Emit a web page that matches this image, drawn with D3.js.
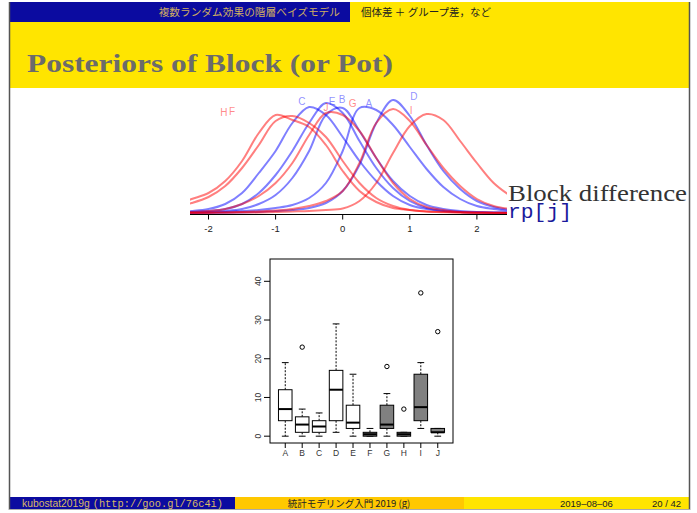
<!DOCTYPE html>
<html>
<head>
<meta charset="utf-8">
<script src="https://cdn.jsdelivr.net/npm/d3@7"></script>
<style>
  body { margin: 0; background: #fff; }
  svg { display: block; }
</style>
</head>
<body>
<svg id="vis" width="697" height="513"></svg>
<script>
// block names and posterior density samples
var blocks = ["A", "B", "C", "D", "E", "F", "G", "H", "I", "J"];
var gridX = [-2.5, -2.25, -2, -1.75, -1.5, -1.25, -1, -0.75, -0.5, -0.25, 0,
  0.25, 0.5, 0.75, 1, 1.25, 1.5, 1.75, 2, 2.25, 2.5];

var densA = [0.001, 0.002, 0.005, 0.01, 0.02, 0.03, 0.05, 0.08, 0.15, 0.3, 0.62, 1.05, 1.03, 0.88, 0.66, 0.44, 0.26, 0.14, 0.07, 0.04, 0.02];
var densB = [0.005, 0.01, 0.02, 0.04, 0.09, 0.2, 0.38, 0.62, 0.9, 1.1, 1.0, 0.72, 0.45, 0.25, 0.12, 0.05, 0.02, 0.01, 0.005, 0.003, 0.002];
var densC = [0.01, 0.02, 0.04, 0.09, 0.2, 0.4, 0.62, 0.9, 1.06, 0.98, 0.76, 0.52, 0.32, 0.17, 0.08, 0.04, 0.02, 0.01, 0.005, 0.003, 0.002];
var densD = [0, 0.001, 0.002, 0.003, 0.005, 0.01, 0.02, 0.03, 0.05, 0.1, 0.22, 0.48, 0.9, 1.13, 0.97, 0.68, 0.42, 0.24, 0.12, 0.06, 0.03];
var densE = [0.002, 0.004, 0.01, 0.02, 0.04, 0.09, 0.18, 0.35, 0.62, 0.98, 1.05, 0.82, 0.55, 0.32, 0.17, 0.08, 0.04, 0.02, 0.01, 0.005, 0.003];
var densF = [0.06, 0.1, 0.16, 0.27, 0.45, 0.68, 0.92, 0.97, 0.9, 0.76, 0.52, 0.3, 0.15, 0.07, 0.03, 0.015, 0.008, 0.004, 0.002, 0.001, 0];
var densG = [0.002, 0.003, 0.005, 0.008, 0.01, 0.015, 0.025, 0.04, 0.07, 0.12, 0.22, 0.5, 0.9, 1.04, 0.92, 0.68, 0.45, 0.27, 0.14, 0.07, 0.04];
var densH = [0.08, 0.14, 0.2, 0.32, 0.52, 0.8, 0.98, 0.93, 0.86, 0.68, 0.42, 0.22, 0.11, 0.05, 0.03, 0.015, 0.01, 0.005, 0.003, 0.002, 0.001];
var densI = [0, 0, 0.001, 0.002, 0.004, 0.006, 0.01, 0.015, 0.02, 0.03, 0.045, 0.12, 0.3, 0.6, 0.87, 0.99, 0.93, 0.72, 0.5, 0.3, 0.17];
var densJ = [0.005, 0.01, 0.02, 0.04, 0.09, 0.17, 0.3, 0.5, 0.78, 1.0, 0.98, 0.82, 0.55, 0.3, 0.14, 0.06, 0.03, 0.01, 0.005, 0.003, 0.002];

// where each block letter sits (data units)
var labelX = [0.39, -0.01, -0.61, 1.06, -0.16, -1.65, 0.15, -1.77, 1.02, -0.25];
var labelY = [1.1, 1.14, 1.12, 1.17, 1.12, 1.02, 1.1, 1.01, 1.03, 1.06];
var densTicks = [-2, -1, 0, 1, 2];

// boxplot of counts per block
var boxMin = [0, 0, 0, 1, 0, 0, 0, 0, 2, 0];
var boxQ1 = [4, 1, 1, 4, 2, 0, 2, 0, 4, 1];
var boxMed = [7, 3, 2.5, 12, 3.5, 0.5, 3, 0.5, 7.5, 1];
var boxQ3 = [12, 5, 4, 17, 8, 1, 8, 1, 16, 2];
var boxMax = [19, 7, 6, 29, 16, 2, 11, 1, 19, 2];
var outBlock = ["B", "G", "H", "I", "J"];
var outValue = [23, 18, 7, 37, 27];
var countTicks = [0, 10, 20, 30, 40];

var svg = d3.select("#vis");
var sans = "'Liberation Sans', Arial, sans-serif";
var cjk = "'Noto Sans CJK JP', sans-serif";

function frame() {
  // header
  svg.append("rect").attr("x", 10).attr("y", 2).attr("width", 340).attr("height", 20).attr("fill", "#0b0ba0");
  svg.append("rect").attr("x", 350).attr("y", 2).attr("width", 339).attr("height", 20).attr("fill", "#ffe500");
  svg.append("text").text("複数ランダム効果の階層ベイズモデル")
    .attr("x", 340).attr("y", 16).attr("text-anchor", "end")
    .style("font", "10.7px " + cjk).attr("fill", "#cfae62");
  svg.append("text").text("個体差 ＋ グループ差，など")
    .attr("x", 361).attr("y", 16)
    .style("font", "10.5px " + cjk).attr("fill", "#222");

  // title band
  svg.append("rect").attr("x", 10).attr("y", 22).attr("width", 679).attr("height", 66).attr("fill", "#ffe500");
  svg.append("text").text("Posteriors of Block (or Pot)")
    .attr("x", 27).attr("y", 72)
    .attr("textLength", 366).attr("lengthAdjust", "spacingAndGlyphs")
    .style("font", "bold 25px 'Liberation Serif', serif").attr("fill", "#6b6b6b");

  // footer
  var fy = 497, fh = 12;
  svg.append("rect").attr("x", 10).attr("y", fy).attr("width", 225).attr("height", fh).attr("fill", "#0b0ba0");
  svg.append("rect").attr("x", 235).attr("y", fy).attr("width", 229).attr("height", fh).attr("fill", "#ffc800");
  svg.append("rect").attr("x", 464).attr("y", fy).attr("width", 225).attr("height", fh).attr("fill", "#ffe500");
  var ft = svg.append("text").attr("x", 22).attr("y", fy + 9.5)
    .attr("fill", "#d9b866").style("font-size", "10px")
    .attr("textLength", 201).attr("lengthAdjust", "spacingAndGlyphs");
  ft.append("tspan").text("kubostat2019g ").style("font-family", sans);
  ft.append("tspan").text("(http://goo.gl/76c4i)").style("font-family", "'Liberation Mono', monospace");
  svg.append("text").text("統計モデリング入門 2019 (g)")
    .attr("x", 349).attr("y", fy + 9.5).attr("text-anchor", "middle")
    .style("font", "9.5px " + cjk).attr("fill", "#222");
  svg.append("text").text("2019–08–06")
    .attr("x", 560).attr("y", fy + 9.5)
    .style("font", "9.5px " + sans).attr("fill", "#222");
  svg.append("text").text("20 / 42")
    .attr("x", 681).attr("y", fy + 9.5).attr("text-anchor", "end")
    .style("font", "9.5px " + sans).attr("fill", "#222");

  // slide edges
  svg.append("line").attr("x1", 9.5).attr("x2", 9.5).attr("y1", 2).attr("y2", 510).attr("stroke", "#555").attr("stroke-width", 1.5);
  svg.append("line").attr("x1", 689.5).attr("x2", 689.5).attr("y1", 2).attr("y2", 510).attr("stroke", "#555").attr("stroke-width", 1.5);
  svg.append("line").attr("x1", 9).attr("x2", 690).attr("y1", 509.5).attr("y2", 509.5).attr("stroke", "#aaa");
}

function densityPlot() {
  var dens = [densA, densB, densC, densD, densE, densF, densG, densH, densI, densJ];
  var xScale = d3.scaleLinear().domain([-2, 2]).range([208.5, 476.9]);
  var yScale = d3.scaleLinear().domain([0, 1.2]).range([213, 93]);
  var color = d3.scaleOrdinal().domain(blocks)
    .range(blocks.map((b, i) => i < 5 ? "rgba(0,0,255,0.5)" : "rgba(255,0,0,0.5)"));
  var labColor = d3.scaleOrdinal().domain(blocks)
    .range(blocks.map((b, i) => i < 5 ? "rgba(70,70,255,0.6)" : "rgba(255,60,60,0.6)"));

  svg.append("clipPath").attr("id", "dclip")
    .append("rect").attr("x", 190).attr("y", 85).attr("width", 317).attr("height", 135);

  var line = d3.line()
    .x((d, i) => xScale(gridX[i]))
    .y(d => yScale(d))
    .curve(d3.curveCatmullRom.alpha(0.5));

  var g = svg.append("g").attr("clip-path", "url(#dclip)");
  g.selectAll("path")
    .data(blocks)
    .enter()
    .append("path")
    .attr("d", (b, i) => line(dens[i]))
    .attr("fill", "none")
    .attr("stroke", b => color(b))
    .attr("stroke-width", 2);

  svg.selectAll(".blab")
    .data(blocks)
    .enter()
    .append("text")
    .attr("class", "blab")
    .text(b => b)
    .attr("x", (b, i) => xScale(labelX[i]))
    .attr("y", (b, i) => yScale(labelY[i]) + 3.5)
    .attr("text-anchor", "middle")
    .style("font", "10px " + sans)
    .attr("fill", b => labColor(b));

  // x axis
  var ax = svg.append("g").attr("transform", "translate(0,214.5)");
  ax.append("line").attr("x1", 190).attr("x2", 507).attr("stroke", "#000").attr("stroke-width", 1);
  ax.selectAll(".tk").data(densTicks).enter().append("line")
    .attr("x1", d => xScale(d)).attr("x2", d => xScale(d))
    .attr("y1", 0).attr("y2", 5).attr("stroke", "#000");
  ax.selectAll(".tl").data(densTicks).enter().append("text")
    .text(d => d)
    .attr("x", d => xScale(d)).attr("y", 17)
    .attr("text-anchor", "middle")
    .style("font", "9.5px " + sans).attr("fill", "#222");

  svg.append("text").text("Block difference")
    .attr("x", 508).attr("y", 201)
    .attr("textLength", 179).attr("lengthAdjust", "spacingAndGlyphs")
    .style("font", "23px 'Liberation Serif', serif").attr("fill", "#333");
  svg.append("text").text("rp[j]")
    .attr("x", 508).attr("y", 218)
    .attr("textLength", 64).attr("lengthAdjust", "spacingAndGlyphs")
    .style("font", "20px 'Liberation Mono', monospace").attr("fill", "#1a1a9c");
}

function boxPlot() {
  var x = d3.scaleLinear().domain([0.1, 10.9]).range([270, 453]);
  var y = d3.scaleLinear().domain([-1.76, 45.76]).range([443, 259]);
  var fill = d3.scaleOrdinal().domain(blocks)
    .range(blocks.map((b, i) => i < 5 ? "#fff" : "#808080"));
  var hw = 0.4, cw = 0.2;

  var g = svg.append("g");
  var box = g.selectAll(".box").data(blocks).enter().append("g");

  box.append("line")
    .attr("x1", (b, i) => x(i + 1)).attr("x2", (b, i) => x(i + 1))
    .attr("y1", (b, i) => y(boxQ3[i])).attr("y2", (b, i) => y(boxMax[i]))
    .attr("stroke", "#000").attr("stroke-dasharray", "2,1.5");
  box.append("line")
    .attr("x1", (b, i) => x(i + 1)).attr("x2", (b, i) => x(i + 1))
    .attr("y1", (b, i) => y(boxQ1[i])).attr("y2", (b, i) => y(boxMin[i]))
    .attr("stroke", "#000").attr("stroke-dasharray", "2,1.5");
  box.append("line")
    .attr("x1", (b, i) => x(i + 1 - cw)).attr("x2", (b, i) => x(i + 1 + cw))
    .attr("y1", (b, i) => y(boxMax[i])).attr("y2", (b, i) => y(boxMax[i]))
    .attr("stroke", "#000");
  box.append("line")
    .attr("x1", (b, i) => x(i + 1 - cw)).attr("x2", (b, i) => x(i + 1 + cw))
    .attr("y1", (b, i) => y(boxMin[i])).attr("y2", (b, i) => y(boxMin[i]))
    .attr("stroke", "#000");
  box.append("rect")
    .attr("x", (b, i) => x(i + 1 - hw))
    .attr("width", x(1 + hw) - x(1 - hw))
    .attr("y", (b, i) => y(boxQ3[i]))
    .attr("height", (b, i) => y(boxQ1[i]) - y(boxQ3[i]))
    .attr("fill", b => fill(b)).attr("stroke", "#000");
  box.append("line")
    .attr("x1", (b, i) => x(i + 1 - hw)).attr("x2", (b, i) => x(i + 1 + hw))
    .attr("y1", (b, i) => y(boxMed[i])).attr("y2", (b, i) => y(boxMed[i]))
    .attr("stroke", "#000").attr("stroke-width", 2);

  g.selectAll(".out").data(outBlock).enter().append("circle")
    .attr("cx", (b) => x(blocks.indexOf(b) + 1))
    .attr("cy", (b, i) => y(outValue[i]))
    .attr("r", 2.2)
    .attr("fill", "none").attr("stroke", "#000");

  // frame and axes
  g.append("rect").attr("x", 270).attr("y", 259).attr("width", 183).attr("height", 184)
    .attr("fill", "none").attr("stroke", "#000");
  g.selectAll(".yt").data(countTicks).enter().append("line")
    .attr("x1", 264).attr("x2", 270)
    .attr("y1", d => y(d)).attr("y2", d => y(d)).attr("stroke", "#000");
  g.selectAll(".yl").data(countTicks).enter().append("text")
    .text(d => d)
    .attr("transform", d => "translate(261," + y(d) + ") rotate(-90)")
    .attr("text-anchor", "middle")
    .style("font", "8.5px " + sans).attr("fill", "#333");
  g.selectAll(".xt").data(blocks).enter().append("line")
    .attr("x1", (b, i) => x(i + 1)).attr("x2", (b, i) => x(i + 1))
    .attr("y1", 443).attr("y2", 448).attr("stroke", "#000");
  g.selectAll(".xl").data(blocks).enter().append("text")
    .text(b => b)
    .attr("x", (b, i) => x(i + 1)).attr("y", 456)
    .attr("text-anchor", "middle")
    .style("font", "8.5px " + sans).attr("fill", "#333");
}

frame();
densityPlot();
boxPlot();
</script>
</body>
</html>
